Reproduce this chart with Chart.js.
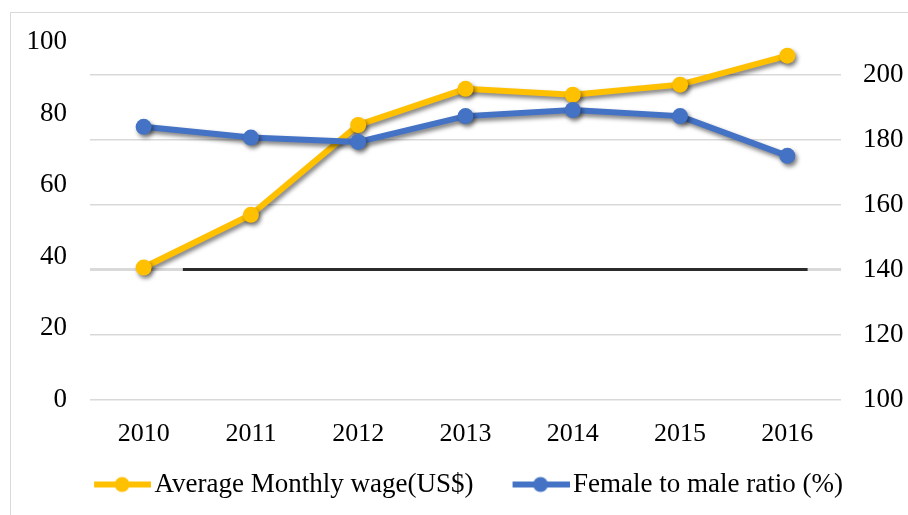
<!DOCTYPE html>
<html>
<head>
<meta charset="utf-8">
<script src="https://cdn.jsdelivr.net/npm/chart.js@4"></script>
<style>
  html, body { margin: 0; padding: 0; background: #fff; overflow: hidden; }
  #frame { position: absolute; left: 10px; top: 12px; width: 920px; height: 520px; border: 1.5px solid #d9d9d9; }
  #wrap { position: absolute; left: 0; top: 0; width: 908px; height: 515px; }
</style>
</head>
<body>
<div id="frame"></div>
<div id="wrap"><canvas id="chart"></canvas></div>
<script>
// years on the x axis
const years = ['2010', '2011', '2012', '2013', '2014', '2015', '2016'];
// wage, read against the right axis
const wage = [140.7, 156.9, 184.5, 195.6, 193.8, 196.9, 205.8];
// female to male ratio, read against the left axis
const ratio = [76.3, 73.3, 72.1, 79.3, 81.0, 79.3, 68.2];

const ORANGE = '#FFC000';
const BLUE = '#4472C4';
const FONT = "'Liberation Serif', 'Times New Roman', serif";

// legend swatch: line + dot, sitting on the right side of a wide box
const BOX = 76;
function swatch(color) {
  const c = document.createElement('canvas');
  c.width = 96; c.height = 18;
  const g = c.getContext('2d');
  g.strokeStyle = color; g.lineWidth = 6;
  g.beginPath(); g.moveTo(39, 9); g.lineTo(96, 9); g.stroke();
  g.fillStyle = color;
  g.beginPath(); g.arc(67, 9, 7.5, 0, Math.PI * 2); g.fill();
  return c;
}

const shadow = {
  id: 'shadow',
  beforeDatasetsDraw(chart) {
    const ctx = chart.ctx;
    ctx.save();
    ctx.shadowColor = 'rgba(0,0,0,0.5)';
    ctx.shadowBlur = 4;
    ctx.shadowOffsetX = 2;
    ctx.shadowOffsetY = 3;
  },
  afterDatasetsDraw(chart) { chart.ctx.restore(); },
};

// the 140 line is dark through the middle, light at both ends
function gridColor(c) {
  if (!c.tick || c.tick.value !== 140) return '#d9d9d9';
  const a = c.chart.chartArea;
  if (!a) return '#2b2b2b';
  const g = c.chart.ctx.createLinearGradient(a.left, 0, a.right, 0);
  g.addColorStop(0, '#d9d9d9');
  g.addColorStop(0.123, '#d9d9d9');
  g.addColorStop(0.124, '#2b2b2b');
  g.addColorStop(0.955, '#2b2b2b');
  g.addColorStop(0.956, '#d9d9d9');
  g.addColorStop(1, '#d9d9d9');
  return g;
}

new Chart(document.getElementById('chart'), {
  type: 'line',
  data: {
    labels: years,
    datasets: [
      {
        label: 'Average Monthly wage(US$)',
        data: wage,
        yAxisID: 'y2',
        borderColor: ORANGE, backgroundColor: ORANGE,
        borderWidth: 6, pointRadius: 8, pointBorderWidth: 0,
        pointStyle: 'circle', tension: 0, order: 1,
      },
      {
        label: 'Female to male ratio (%)',
        data: ratio,
        yAxisID: 'y',
        borderColor: BLUE, backgroundColor: BLUE,
        borderWidth: 6, pointRadius: 8, pointBorderWidth: 0,
        pointStyle: 'circle', tension: 0, order: 0,
      },
    ],
  },
  options: {
    responsive: true,
    maintainAspectRatio: false,
    animation: false,
    layout: { padding: { top: 42, left: 0, right: 0, bottom: 7 } },
    plugins: {
      tooltip: { enabled: false },
      legend: {
        position: 'bottom',
        labels: {
          font: { family: FONT, size: 27 },
          color: '#000',
          usePointStyle: true,
          pointStyleWidth: BOX,
          padding: 10,
          sort: (a, b) => a.datasetIndex - b.datasetIndex,
          generateLabels: chart => chart.data.datasets.map((ds, i) => ({
            text: ds.label,
            fillStyle: ds.borderColor,
            strokeStyle: ds.borderColor,
            lineWidth: 0,
            pointStyle: swatch(ds.borderColor),
            datasetIndex: i,
            hidden: false,
            fontColor: '#000',
          })),
        },
      },
    },
    scales: {
      x: {
        offset: true,
        grid: { display: false, drawTicks: false },
        border: { display: false },
        ticks: { font: { family: FONT, size: 26 }, color: '#000', padding: 19 },
        afterFit: s => { s.height = 61; },
      },
      y: {
        position: 'left',
        min: 0, max: 100,
        grid: { display: false, drawTicks: false },
        border: { display: false },
        ticks: { stepSize: 20, font: { family: FONT, size: 27 }, color: '#000', padding: 23 },
        afterFit: s => { s.width = 90; },
      },
      y2: {
        position: 'right',
        min: 100, max: 210,
        grid: {
          drawTicks: false,
          color: gridColor,
          lineWidth: c => c.tick && c.tick.value === 140 ? 3 : 1.5,
        },
        border: { display: false },
        ticks: { stepSize: 20, font: { family: FONT, size: 27 }, color: '#000', padding: 22 },
        afterBuildTicks: s => { s.ticks = s.ticks.filter(t => t.value <= 200); },
        afterFit: s => { s.width = 67; },
      },
    },
  },
  plugins: [shadow],
});
</script>
</body>
</html>
